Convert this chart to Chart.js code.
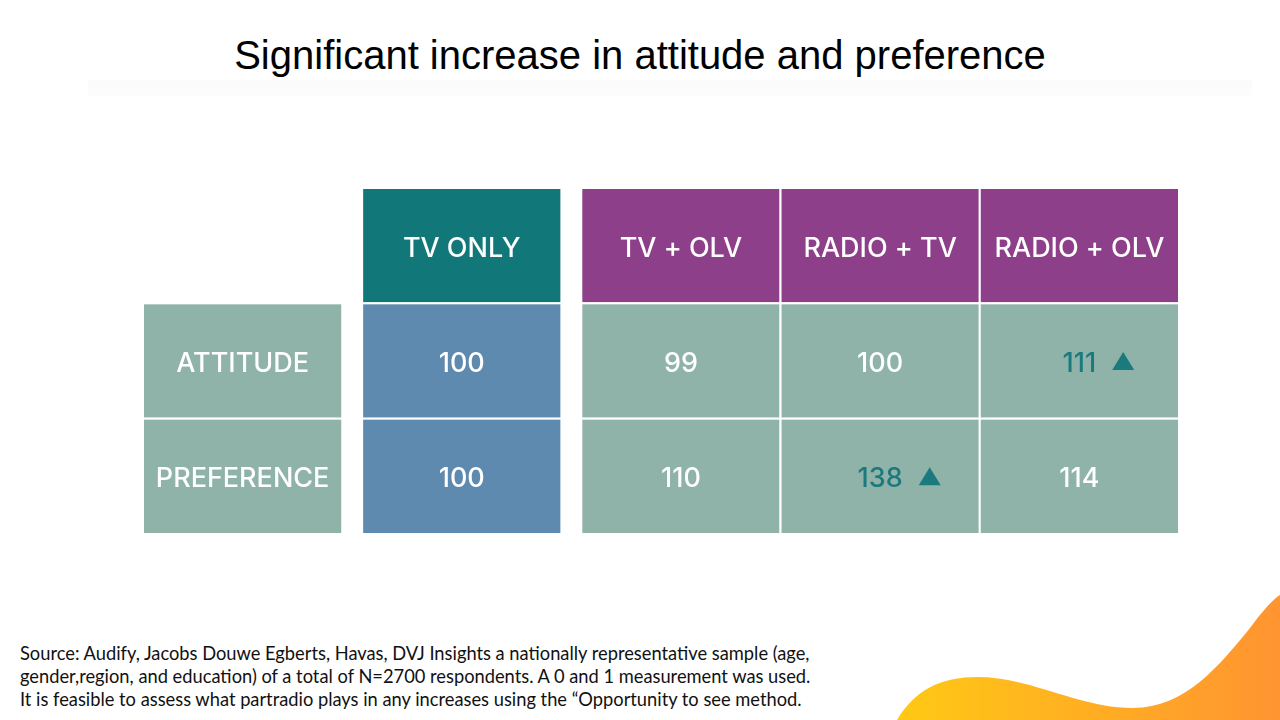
<!DOCTYPE html>
<html>
<head>
<meta charset="utf-8">
<script src="https://cdn.jsdelivr.net/npm/chart.js@4.4.1/dist/chart.umd.min.js"></script>
<style>
  html, body { margin:0; padding:0; background:#fff; }
  #wrap { position:relative; width:1280px; height:720px; overflow:hidden; }
  #title { position:absolute; left:0; top:33px; width:1280px; text-align:center;
           font-family:"Liberation Sans", Arial, sans-serif; font-size:40px; color:#000; }
  #band { position:absolute; left:88px; top:80px; width:1164px; height:16px;
          background:linear-gradient(#fbfbfb, #fdfdfd); }
  #source { position:absolute; left:20px; top:642px; font-family:Lato, "Open Sans", sans-serif;
            font-size:18.3px; line-height:23px; color:#111; }
  #wave { position:absolute; left:0; top:0; }
  #chartBox { position:absolute; left:0; top:0; width:1280px; height:720px; }
</style>
</head>
<body>
<div id="wrap">
  <div id="band"></div>
  <div id="title">Significant increase in attitude and preference</div>
  <svg id="wave" width="1280" height="720">
    <defs>
      <linearGradient id="wg" x1="0" y1="0" x2="1" y2="0">
        <stop offset="0" stop-color="#ffc914"/>
        <stop offset="1" stop-color="#ff9431"/>
      </linearGradient>
    </defs>
    <path d="M897,720 C915,690 940,677 978,677 C1030,677 1080,708 1133,708 C1185,708 1220,665 1250,628 C1262,612 1272,600 1280,595 L1280,720 Z" fill="url(#wg)"/>
  </svg>
  <div id="source">Source: Audify, Jacobs Douwe Egberts, Havas, DVJ Insights a nationally representative sample (age,<br>gender,region, and education) of a total of N=2700 respondents. A 0 and 1 measurement was used.<br>It is feasible to assess what partradio plays in any increases using the “Opportunity to see method.</div>
  <div id="chartBox"><canvas id="tableChart"></canvas></div>
</div>

<script>
/* ---------- DATA ---------- */
const columns = ["TV ONLY", "TV + OLV", "RADIO + TV", "RADIO + OLV"];
const rowLabels = ["ATTITUDE", "PREFERENCE"];
const attitude = [100, 99, 100, 111];
const preference = [100, 110, 138, 114];
const attitudeUp = [false, false, false, true];
const preferenceUp = [false, false, true, false];

/* ---------- LAYOUT (column starts in cell units) ---------- */
const labelColX = 0;
const colX = [1.1, 2.2, 3.2, 4.2];
const cellW = 1;

const TEAL = "#127779";
const PURPLE = "#8d4089";
const SAGE = "#8fb3a8";
const STEEL = "#5f8ab0";
const MARK = "#1b7a7e";
const CELL_FONT = '500 27px Inter, "Open Sans", sans-serif';

const tablePlugin = {
  id: 'tableCells',
  afterDraw(chart) {
    const ctx = chart.ctx, xs = chart.scales.x, ys = chart.scales.y;
    const rect = (x0, y0, fill) => {
      const l = xs.getPixelForValue(x0), r = xs.getPixelForValue(x0 + cellW);
      const t = ys.getPixelForValue(y0), b = ys.getPixelForValue(y0 + 1);
      ctx.fillStyle = fill;
      ctx.fillRect(l, t, r - l, b - t);
      ctx.strokeStyle = "#ffffff";
      ctx.lineWidth = 2;
      ctx.strokeRect(l, t, r - l, b - t);
      return { cx: (l + r) / 2, cy: (t + b) / 2 };
    };
    const txt = (s, p, color) => {
      ctx.fillStyle = color;
      ctx.font = CELL_FONT;
      ctx.textAlign = 'center';
      ctx.textBaseline = 'middle';
      ctx.fillText(s, p.cx, p.cy + 3);
    };
    const arrow = (p, s) => {
      ctx.font = CELL_FONT;
      const w = ctx.measureText(String(s)).width;
      const x = p.cx + w / 2 + 16, y = p.cy + 1;
      ctx.fillStyle = MARK;
      ctx.beginPath();
      ctx.moveTo(x, y + 8);
      ctx.lineTo(x + 22, y + 8);
      ctx.lineTo(x + 11, y - 10);
      ctx.closePath();
      ctx.fill();
    };
    ctx.save();
    // header row
    columns.forEach((c, i) => {
      const p = rect(colX[i], 0, i === 0 ? TEAL : PURPLE);
      txt(c, p, "#ffffff");
    });
    // body rows
    [attitude, preference].forEach((vals, r) => {
      const ups = r === 0 ? attitudeUp : preferenceUp;
      const lp = rect(labelColX, r + 1, SAGE);
      txt(rowLabels[r], lp, "#ffffff");
      vals.forEach((v, i) => {
        const p = rect(colX[i], r + 1, i === 0 ? STEEL : SAGE);
        txt(String(v), p, ups[i] ? MARK : "#ffffff");
        if (ups[i]) arrow(p, v);
      });
    });
    ctx.restore();
  }
};

try {
  new Chart(document.getElementById("tableChart"), {
    type: 'scatter',
    data: { datasets: [{ data: [], pointRadius: 0 }] },
    options: {
      responsive: true,
      maintainAspectRatio: false,
      animation: false,
      layout: { padding: { left: 143, right: 101, top: 188, bottom: 186 } },
      plugins: { legend: { display: false }, tooltip: { enabled: false } },
      scales: {
        x: { type: 'linear', min: 0, max: 5.2, display: false },
        y: { type: 'linear', min: 0, max: 3, reverse: true, display: false }
      }
    },
    plugins: [tablePlugin]
  });
} catch (e) {
  console.error('Error initializing table chart:', e);
}
</script>
</body>
</html>
